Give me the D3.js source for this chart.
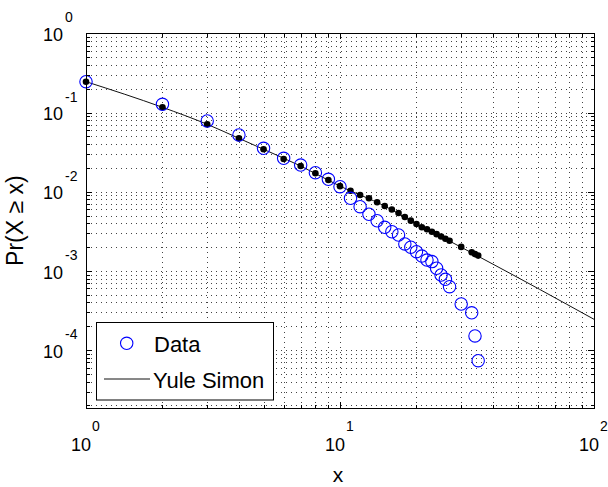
<!DOCTYPE html>
<html><head><meta charset="utf-8">
<script src="https://cdn.jsdelivr.net/npm/d3@7"></script>
<style>body{margin:0;background:#fff}svg{display:block}</style>
</head><body>
<svg id="c" width="608" height="487"></svg>
<script>
// ---- data ----
const dataX = [1,2,3,4,5,6,7,8,9,10,11,12,13,14,15,16,17,18,19,20,21,22,23,24,25,26,27,30,33,34,35];
const dataY = [0.245,0.127,0.0781,0.052,0.0353,0.0264,0.0217,0.0174,0.01435,0.01157,
  0.00826,0.00647,0.00519,0.0043,0.00355,0.00312,0.00284,0.00219,0.00199,0.00175,
  0.00154,0.00137,0.00131,0.00108,0.000888,0.000783,0.000632,0.000382,0.000296,0.000151,0.0000735];
const fitY = [0.245,0.1163,0.071,0.0472,0.0343,0.0259,0.0211,0.0171,0.01406,0.01175,
  0.0103,0.00908,0.00826,0.00735,0.00659,0.00596,0.00538,0.0048,0.00431,0.00391,
  0.00356,0.00335,0.00312,0.00291,0.00272,0.00255,0.0024,0.00201,0.00172,0.00163,0.00156];
const lineX = [1,2,3,4,5,7,10,15,20,27,35,48,61,78,100];
const lineY = [0.245,0.1163,0.071,0.0472,0.0343,0.0211,0.01175,0.00659,0.00391,0.00238,0.00153,0.000889,0.000586,0.00038,0.000245];
const xTickExps = [0,1,2];
const yTickExps = [0,-1,-2,-3,-4];
const legendLabels = ["Data","Yule Simon"];
const xLabel = "x";
const yLabel = "Pr(X \u2265 x)";

// ---- layout ----
const L = 86, R = 594, T = 33.3, B = 408;
const yMin = Math.pow(10, -4.731);
const x = d3.scaleLog().domain([1,100]).range([L,R]);
const y = d3.scaleLog().domain([yMin,1]).range([B,T]);
const svg = d3.select("#c");
svg.append("rect").attr("width",608).attr("height",487).attr("fill","#fff");

const font = "'Liberation Sans', Arial, Helvetica, sans-serif";

// tick value sets
const xMinor = [], xMajor = [1,10,100];
[1,10].forEach(d => { for (let k=2;k<=9;k++) xMinor.push(k*d); });
const yMinor = [], yMajor = [];
for (let e=-5;e<=0;e++){ const d=Math.pow(10,e); if (d>=yMin) yMajor.push(d);
  for (let k=2;k<=9;k++){ const v=k*d; if (v>yMin && v<1) yMinor.push(v);} }

// ---- grid (dotted) ----
const gridG = svg.append("g");
gridG.append("g").attr("transform",`translate(0,${B})`)
  .call(d3.axisBottom(x).tickValues(xMinor.concat([10])).tickSize(-(B-T)).tickFormat(""));
gridG.append("g").attr("transform",`translate(${L},0)`)
  .call(d3.axisLeft(y).tickValues(yMinor.concat(yMajor.filter(v=>v<1))).tickSize(-(R-L)).tickFormat(""));
gridG.selectAll(".domain").remove();
gridG.selectAll(".tick line").attr("stroke","#444").attr("stroke-width",1)
  .attr("stroke-dasharray","1,4").attr("shape-rendering","crispEdges");

// ---- Yule Simon line and dots ----
const pts = lineX.map((v,i)=>[v,lineY[i]]);
svg.append("path").datum(pts)
  .attr("d", d3.line().x(d=>x(d[0])).y(d=>y(d[1])).curve(d3.curveMonotoneX))
  .attr("fill","none").attr("stroke","#111").attr("stroke-width",1);
svg.append("g").selectAll("circle").data(dataX).join("circle")
  .attr("cx",(d)=>x(d)).attr("cy",(d,i)=>y(fitY[i])).attr("r",3.3).attr("fill","#000");

// ---- data circles ----
svg.append("g").selectAll("circle").data(dataX).join("circle")
  .attr("cx",d=>x(d)).attr("cy",(d,i)=>y(dataY[i])).attr("r",6.2)
  .attr("fill","none").attr("stroke","#0000ff").attr("stroke-width",1.1);

// ---- ticks (inward, all four sides) ----
function ticks(axisFn, scale, vals, len, tr){
  const g = svg.append("g").attr("transform",tr)
    .call(axisFn(scale).tickValues(vals).tickSize(-len).tickFormat(""));
  g.select(".domain").remove();
  g.selectAll(".tick line").attr("stroke","#000").attr("shape-rendering","crispEdges");
}
ticks(d3.axisBottom, x, xMinor, 3.5, `translate(0,${B})`);
ticks(d3.axisBottom, x, [10], 6, `translate(0,${B})`);
ticks(d3.axisTop, x, xMinor, 3.5, `translate(0,${T})`);
ticks(d3.axisTop, x, [10], 6, `translate(0,${T})`);
ticks(d3.axisLeft, y, yMinor, 3.5, `translate(${L},0)`);
ticks(d3.axisLeft, y, yMajor.filter(v=>v<1), 6, `translate(${L},0)`);
ticks(d3.axisRight, y, yMinor, 3.5, `translate(${R},0)`);
ticks(d3.axisRight, y, yMajor.filter(v=>v<1), 6, `translate(${R},0)`);

// box
svg.append("rect").attr("x",L).attr("y",T).attr("width",R-L).attr("height",B-T)
  .attr("fill","none").attr("stroke","#000").attr("stroke-width",1).attr("shape-rendering","crispEdges");

// ---- tick labels ----
xTickExps.forEach(e=>{
  const px = x(Math.pow(10,e));
  svg.append("text").attr("x",px-5).attr("y",451).attr("text-anchor","middle")
    .attr("font-family",font).attr("font-size",18).text("10");
  svg.append("text").attr("x",px+6).attr("y",431).attr("text-anchor","start")
    .attr("font-family",font).attr("font-size",14).text(String(e));
});
yTickExps.forEach(e=>{
  const py = y(Math.pow(10,e));
  svg.append("text").attr("x",63).attr("y",py+7.6).attr("text-anchor","end")
    .attr("font-family",font).attr("font-size",18).text("10");
  svg.append("text").attr("x",65).attr("y",py-11).attr("text-anchor","start")
    .attr("font-family",font).attr("font-size",14).text(e===0?"0":"-"+(-e));
});

// axis labels
svg.append("text").attr("x",338).attr("y",482).attr("text-anchor","middle")
  .attr("font-family",font).attr("font-size",21).text(xLabel);
svg.append("text").attr("transform",`translate(23,${(T+B)/2}) rotate(-90)`).attr("text-anchor","middle")
  .attr("font-family",font).attr("font-size",23).text(yLabel);

// ---- legend ----
const lg = svg.append("g");
lg.append("rect").attr("x",96.5).attr("y",322.5).attr("width",177).attr("height",77.5)
  .attr("fill","#fff").attr("stroke","#000").attr("stroke-width",1);
lg.append("circle").attr("cx",126.7).attr("cy",343.3).attr("r",6.2)
  .attr("fill","none").attr("stroke","#0000ff").attr("stroke-width",1.1);
lg.append("text").attr("x",154).attr("y",352).attr("font-family",font).attr("font-size",22).text(legendLabels[0]);
lg.append("line").attr("x1",104).attr("x2",150).attr("y1",379).attr("y2",379)
  .attr("stroke","#111").attr("stroke-width",1);
lg.append("text").attr("x",153).attr("y",388).attr("font-family",font).attr("font-size",22).text(legendLabels[1]);
</script>
</body></html>
